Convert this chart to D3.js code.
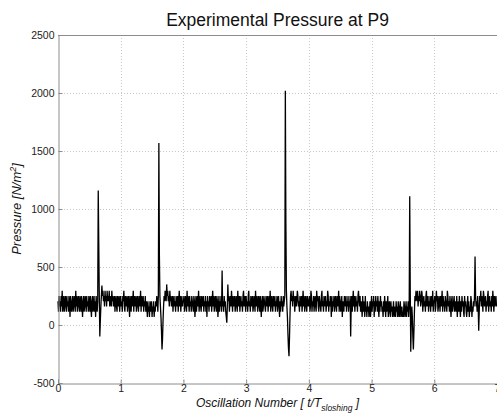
<!DOCTYPE html>
<html>
<head>
<meta charset="utf-8">
<script src="https://cdn.jsdelivr.net/npm/d3@7"></script>
<style>
  body { margin: 0; background: #fff; }
  svg { display: block; font-family: "Liberation Sans", Arial, sans-serif; }
</style>
</head>
<body>
<div id="chart"></div>
<script>
"use strict";

const chtWidth = 497,
  chtHeight = 417;

const margin = { top: 35, right: 0, bottom: 34, left: 58 };

// Sampling step of the pressure record, in oscillations (t/T)
const sampleStep = 1 / 120;

// Pressure readings [N/m2], one array per sloshing oscillation (120 samples each)
const osc0 = [
  205, 115, 250, 160, 205, 115, 250, 160, 295, 115, 205, 250, 115, 160, 250, 205, 115, 250, 160, 205,
  115, 250, 205, 70, 250, 160, 115, 205, 250, 115, 160, 250, 205, 115, 295, 160, 250, 115, 205, 250,
  160, 115, 250, 205, 115, 250, 160, 70, 205, 250, 115, 160, 250, 205, 115, 250, 160, 205, 115, 250,
  205, 115, 250, 160, 70, 205, 250, 115, 160, 250, 115, 205, 70, 250, 160, 115, 205, 1160, 700, 250,
  -100, 40, 160, 250, 340, 250, 295, 205, 250, 160, 295, 205, 250, 160, 295, 205, 250, 205, 295, 160,
  250, 205, 160, 295, 205, 250, 160, 205, 250, 115, 205, 250, 160, 115, 250, 205, 160, 250, 115, 205,
];
const osc1 = [
  250, 160, 205, 115, 250, 205, 295, 160, 115, 250, 205, 160, 250, 115, 205, 250, 160, 70, 250, 205,
  115, 250, 160, 205, 295, 115, 250, 205, 160, 250, 115, 205, 250, 160, 115, 250, 205, 160, 295, 115,
  250, 205, 160, 250, 115, 205, 160, 250, 115, 205, 160, 70, 205, 115, 160, 70, 205, 115, 160, 205,
  70, 160, 115, 205, 70, 160, 115, 205, 160, 250, 205, 115, 250, 1570, 600, 250, 160, 70, -50, -210,
  -120, 40, 160, 250, 205, 295, 250, 205, 350, 250, 295, 205, 250, 160, 295, 205, 250, 160, 205, 250,
  115, 205, 250, 160, 205, 115, 250, 205, 160, 250, 115, 205, 295, 160, 250, 115, 205, 250, 160, 205,
];
const osc2 = [
  205, 250, 115, 160, 250, 205, 115, 295, 160, 250, 205, 115, 250, 160, 205, 115, 250, 205, 160, 115,
  250, 205, 70, 160, 250, 115, 205, 250, 160, 295, 115, 205, 250, 160, 115, 250, 205, 160, 250, 115,
  205, 160, 250, 115, 205, 70, 250, 160, 205, 115, 250, 205, 160, 250, 115, 205, 295, 160, 250, 115,
  205, 250, 160, 115, 250, 205, 70, 160, 250, 115, 205, 160, 250, 115, 470, 160, 205, 115, 250, 160,
  205, 115, 70, 20, 160, 350, 205, 250, 115, 205, 250, 160, 295, 205, 115, 250, 160, 205, 250, 115,
  160, 250, 205, 115, 295, 205, 160, 250, 115, 205, 250, 160, 205, 115, 250, 295, 160, 205, 250, 115,
];
const osc3 = [
  250, 160, 205, 115, 250, 295, 160, 205, 115, 250, 160, 205, 250, 115, 160, 250, 205, 115, 295, 160,
  205, 250, 115, 160, 250, 205, 115, 250, 160, 70, 205, 250, 115, 160, 250, 205, 160, 115, 250, 205,
  160, 250, 115, 205, 250, 160, 295, 115, 205, 250, 160, 115, 250, 205, 160, 250, 115, 205, 160, 250,
  115, 205, 250, 160, 70, 205, 115, 250, 160, 205, 115, 250, 160, 205, 250, 2020, 900, 300, 160, 70,
  -80, -200, -270, -100, 100, 250, 295, 205, 250, 160, 295, 205, 250, 115, 205, 250, 160, 205, 295, 250,
  160, 205, 115, 250, 160, 205, 250, 115, 205, 295, 160, 250, 115, 205, 250, 160, 115, 250, 205, 160,
];
const osc4 = [
  205, 250, 115, 160, 295, 250, 115, 205, 160, 250, 115, 205, 250, 160, 115, 295, 205, 250, 160, 115,
  250, 205, 160, 115, 250, 295, 160, 205, 115, 250, 205, 160, 250, 115, 205, 160, 295, 250, 115, 205,
  160, 250, 205, 70, 250, 115, 205, 160, 250, 115, 205, 250, 160, 115, 250, 205, 160, 295, 115, 250,
  205, 115, 160, 250, 70, 205, 160, 115, 250, 205, 160, 250, 115, 205, 160, 250, 115, 205, 160, 250,
  -100, 160, 250, 115, 205, 295, 160, 250, 115, 205, 250, 160, 205, 115, 250, 295, 205, 160, 250, 115,
  205, 160, 70, 250, 115, 205, 160, 70, 250, 115, 160, 70, 205, 115, 160, 70, 115, 205, 70, 160,
];
const osc5 = [
  250, 115, 205, 160, 250, 70, 205, 115, 250, 160, 205, 115, 250, 160, 70, 205, 115, 250, 160, 205,
  115, 160, 70, 205, 115, 250, 160, 70, 205, 115, 160, 250, 70, 115, 205, 160, 70, 205, 115, 160,
  70, 115, 205, 70, 160, 115, 70, 205, 115, 160, 70, 205, 115, 70, 160, 205, 70, 115, 160, 70,
  115, 70, 205, 160, 70, 115, 205, 70, 160, 115, 205, 70, 160, 1110, 300, -230, 40, 160, 70, -100,
  -210, -60, 115, 250, 205, 295, 250, 205, 295, 160, 250, 205, 295, 250, 160, 205, 295, 250, 115, 205,
  250, 160, 205, 115, 250, 295, 160, 205, 250, 115, 205, 160, 250, 115, 205, 250, 160, 295, 115, 205,
];
const osc6 = [
  205, 250, 115, 160, 295, 205, 250, 115, 160, 250, 205, 115, 250, 160, 205, 295, 115, 250, 160, 205,
  115, 250, 205, 160, 115, 295, 250, 160, 205, 115, 250, 160, 70, 205, 250, 115, 160, 205, 250, 115,
  160, 205, 115, 250, 70, 160, 205, 115, 250, 160, 70, 205, 115, 250, 160, 205, 115, 70, 250, 160,
  205, 115, 70, 160, 250, 115, 205, 70, 160, 115, 250, 205, 70, 160, 115, 205, 160, 250, 590, 250,
  160, 205, 115, 250, 160, -50, 115, 250, 205, 295, 160, 250, 205, 115, 295, 250, 160, 205, 250, 115,
  205, 160, 250, 295, 115, 205, 250, 160, 205, 115, 250, 160, 295, 205, 115, 250, 160, 205, 250, 160,
];

const xTicks = [0, 1, 2, 3, 4, 5, 6, 7],
  yTicks = [-500, 0, 500, 1000, 1500, 2000, 2500];

const pressure = [osc0, osc1, osc2, osc3, osc4, osc5, osc6]
  .flat()
  .map((p, i) => ({ t: i * sampleStep, p: p }));

const width = chtWidth - margin.left - margin.right,
  height = chtHeight - margin.top - margin.bottom;

const svg = d3
  .select("#chart")
  .append("svg")
  .attr("width", chtWidth)
  .attr("height", chtHeight);

const x = d3.scaleLinear().domain([0, 7]).range([margin.left, margin.left + width]);
const y = d3.scaleLinear().domain([-500, 2500]).range([margin.top + height, margin.top]);

// grid (dotted, Matlab style)
svg
  .append("g")
  .selectAll("line")
  .data(xTicks.slice(1, -1))
  .join("line")
  .attr("x1", (d) => Math.round(x(d)) + 0.5)
  .attr("x2", (d) => Math.round(x(d)) + 0.5)
  .attr("y1", margin.top)
  .attr("y2", margin.top + height)
  .attr("stroke", "#c8c8c8")
  .attr("stroke-dasharray", "1,2");

svg
  .append("g")
  .selectAll("line")
  .data(yTicks.slice(1, -1))
  .join("line")
  .attr("x1", margin.left)
  .attr("x2", margin.left + width)
  .attr("y1", (d) => Math.round(y(d)) + 0.5)
  .attr("y2", (d) => Math.round(y(d)) + 0.5)
  .attr("stroke", "#c8c8c8")
  .attr("stroke-dasharray", "1,2");

// the signal
const line = d3
  .line()
  .x((d) => x(d.t))
  .y((d) => y(d.p));

svg
  .append("path")
  .datum(pressure)
  .attr("fill", "none")
  .attr("stroke", "#000")
  .attr("stroke-width", 1.3)
  .attr("stroke-linejoin", "bevel")
  .attr("d", line);

// axes
const axisColor = "#8c8c8c";

const gx = svg
  .append("g")
  .attr("transform", `translate(0,${Math.round(y(-500)) + 0.5})`)
  .call(d3.axisBottom(x).tickValues(xTicks).tickSize(-4).tickPadding(1).tickFormat((d) => String(d)));

const gy = svg
  .append("g")
  .attr("transform", `translate(${margin.left + 0.5},0)`)
  .call(d3.axisLeft(y).tickValues(yTicks).tickSize(-4).tickPadding(4).tickFormat((d) => String(d)));

svg
  .append("line")
  .attr("x1", margin.left)
  .attr("x2", margin.left + width)
  .attr("y1", margin.top + 0.5)
  .attr("y2", margin.top + 0.5)
  .attr("stroke", axisColor);

[gx, gy].forEach((g) => {
  g.select(".domain").attr("stroke", axisColor);
  g.selectAll(".tick line").attr("stroke", axisColor);
  g.selectAll(".tick text")
    .attr("fill", "#222")
    .style("font-size", "10.5px")
    .style("font-family", '"Liberation Sans", Arial, sans-serif');
});

// title
svg
  .append("text")
  .attr("x", margin.left + width / 2)
  .attr("y", 26)
  .attr("text-anchor", "middle")
  .style("font-size", "17.5px")
  .attr("fill", "#111")
  .text("Experimental Pressure at P9");

// x label with subscript
const xLabel = svg
  .append("text")
  .attr("x", margin.left + width / 2)
  .attr("y", 407)
  .attr("text-anchor", "middle")
  .style("font-size", "12px")
  .style("font-style", "italic")
  .attr("fill", "#111");
xLabel.append("tspan").text("Oscillation Number [ t/T");
xLabel.append("tspan").attr("dy", 4).style("font-size", "8.5px").text("sloshing");
xLabel.append("tspan").attr("dy", -4).text(" ]");

// y label with superscript
const yLabel = svg
  .append("text")
  .attr("transform", `translate(21,${margin.top + height / 2}) rotate(-90)`)
  .attr("text-anchor", "middle")
  .style("font-size", "13px")
  .style("font-style", "italic")
  .attr("fill", "#111");
yLabel.append("tspan").text("Pressure [N/m");
yLabel.append("tspan").attr("dy", -5).style("font-size", "9px").text("2");
yLabel.append("tspan").attr("dy", 5).text("]");
</script>
</body>
</html>
